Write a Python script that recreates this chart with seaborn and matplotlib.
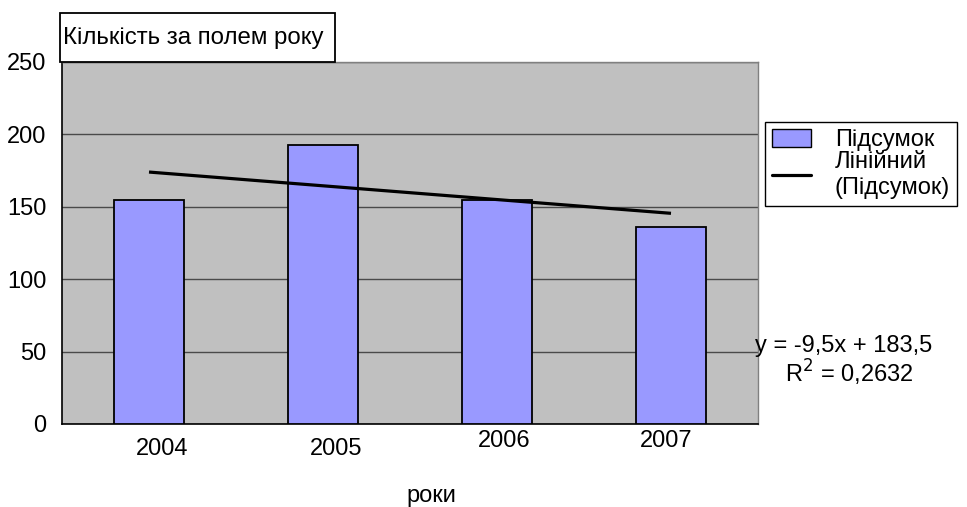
import numpy as np
import pandas as pd
import matplotlib
matplotlib.use("Agg")
import matplotlib.pyplot as plt
import matplotlib.transforms as mtransforms
from matplotlib.patches import Patch, Rectangle
from matplotlib.lines import Line2D
import seaborn as sns

years = ["2004", "2005", "2006", "2007"]
totals = [155, 193, 155, 136]
y_ticks = [0, 50, 100, 150, 200, 250]

sns.set_style("white")
plt.rcParams["font.family"] = ["Liberation Sans", "DejaVu Sans"]
plt.rcParams["text.color"] = "black"
plt.rcParams["xtick.color"] = "black"
plt.rcParams["ytick.color"] = "black"

FS = 17
W, H = 967, 507

df = pd.DataFrame({"year": years, "total": totals})

fig = plt.figure(figsize=(W / 100, H / 100), dpi=100)
ax = fig.add_axes([62 / W, 1 - 424 / H, 696 / W, 362 / H])
ax.set_facecolor("#C0C0C0")

sns.barplot(data=df, x="year", y="total", color="#9999FF", saturation=1,
            width=0.4, edgecolor="black", linewidth=1.3, ax=ax, zorder=3)

# linear trend over positions 1..n
xs = np.arange(1, len(totals) + 1)
slope, intercept = np.polyfit(xs, totals, 1)
fit = slope * xs + intercept
vals = np.array(totals, dtype=float)
r2 = 1 - np.sum((vals - fit) ** 2) / np.sum((vals - vals.mean()) ** 2)
ax.plot(xs - 1, fit, color="black", linewidth=2.3, zorder=4, solid_capstyle="butt")

ax.set_xlim(-0.5, len(years) - 0.5)
ax.set_ylim(0, 250)
ax.set_yticks(y_ticks)
ax.set_yticklabels([str(t) for t in y_ticks], fontsize=FS)
ax.yaxis.grid(True, color="#4a4a4a", linewidth=1)
ax.set_axisbelow(True)

# category boundary ticks below the axis
ax.set_xticks(np.arange(-0.5, len(years) + 0.5, 1), minor=True)
ax.tick_params(axis="x", which="minor", length=5, width=0.8, color="#606060", direction="out")
ax.tick_params(axis="x", which="major", length=0, labelsize=FS, pad=10)
ax.tick_params(axis="y", which="major", length=4, width=0.8, color="black", direction="out", pad=7)

# staggered year labels
shifts = [(13, 0), (13, 0), (7, 8), (-5, 8)]
for lab, (dx, dy) in zip(ax.get_xticklabels(), shifts):
    lab.set_transform(lab.get_transform() +
                      mtransforms.ScaledTranslation(dx / 100, dy / 100, fig.dpi_scale_trans))

ax.set_xlabel("")
ax.set_ylabel("")
for side in ["left", "bottom"]:
    ax.spines[side].set_color("black")
    ax.spines[side].set_linewidth(1.2)
for side in ["top", "right"]:
    ax.spines[side].set_color("#808080")
    ax.spines[side].set_linewidth(1)

fig.text(431 / W, 1 - 496 / H, "роки", fontsize=FS, ha="center", va="center")

# title box
fig.add_artist(Rectangle((60 / W, 1 - 62 / H), 275 / W, 49 / H, transform=fig.transFigure,
                         facecolor="white", edgecolor="black", linewidth=1.3, zorder=10))
fig.text(63 / W, 1 - 38 / H, "Кількість за полем року", fontsize=17.3, ha="left", va="center",
         zorder=11)

handles = [Patch(facecolor="#9999FF", edgecolor="black", linewidth=1),
           Line2D([0], [0], color="black", linewidth=2.3)]
leg = fig.legend(handles, ["Підсумок", "Лінійний\n(Підсумок)"], loc="upper left",
                 bbox_to_anchor=(765 / W, 1 - 122 / H), fontsize=FS, frameon=True,
                 fancybox=False, edgecolor="black", framealpha=1, borderpad=0.3,
                 borderaxespad=0, handlelength=1.65, handleheight=0.8,
                 handletextpad=1.0, labelspacing=0.0)
leg.get_frame().set_linewidth(1)

eq = f"y = {slope:.1f}x + {intercept:.1f}".replace(".", ",")
fig.text(755 / W, 1 - 346 / H, eq, fontsize=FS, ha="left", va="center")
fig.text(785 / W, 1 - 373 / H, f"R$^2$ = {r2:.4f}".replace(".", ","), fontsize=FS,
         ha="left", va="center")

fig.savefig("out.png", dpi=100)
